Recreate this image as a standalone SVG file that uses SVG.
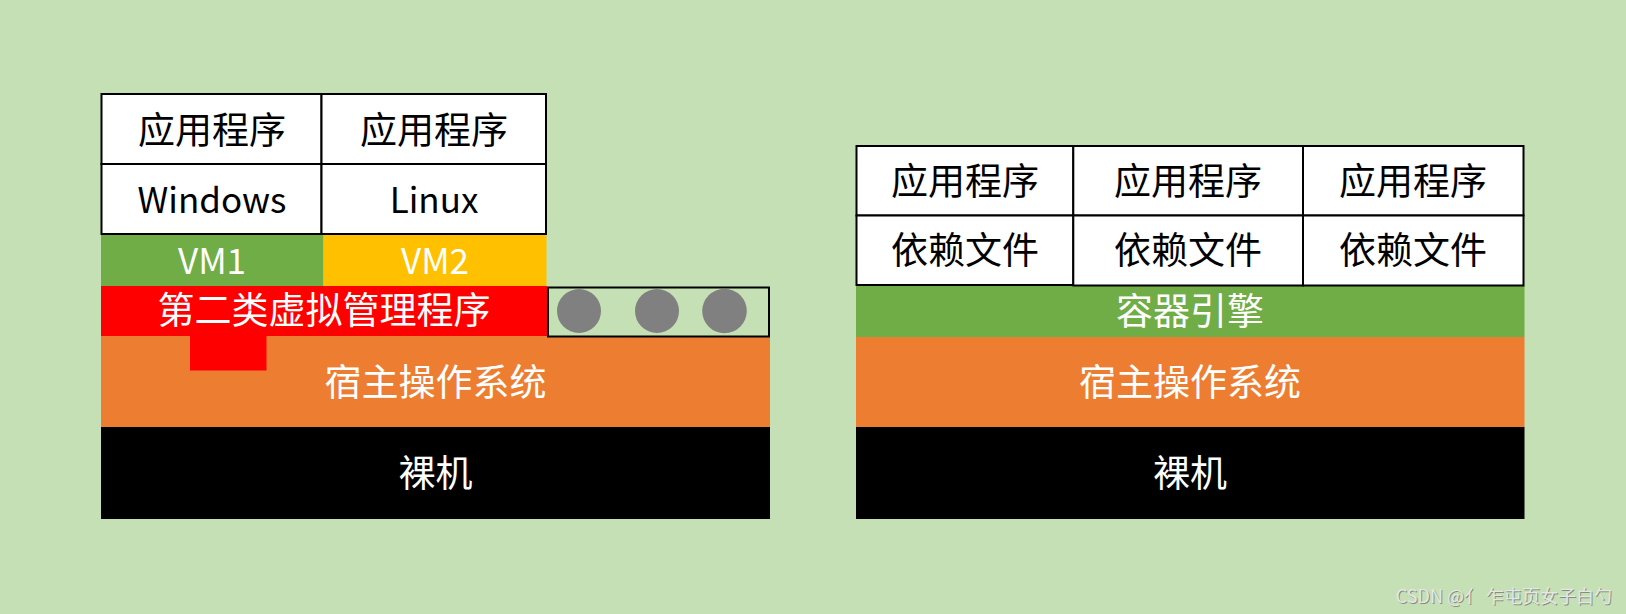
<svg xmlns="http://www.w3.org/2000/svg" width="1626" height="614" viewBox="0 0 1626 614">
<style>
.cell{fill:#ffffff;stroke:#000000;stroke-width:2}
.t{font-family:"Noto Sans CJK SC","Noto Sans",sans-serif;font-size:37px;text-anchor:middle;dominant-baseline:central}
.l{font-size:35px}
.dk{fill:#000000}
.wt{fill:#ffffff}
.dot{fill:#808080}
</style>
<rect x="0" y="0" width="1626" height="614" fill="#C5E0B4"/>

<!-- Left stack: Type 2 hypervisor -->
<g id="left-baremetal">
<rect x="101" y="427" width="669" height="92" fill="#000000"/>
<text class="t wt" x="435.5" y="471">裸机</text>
</g>
<g id="left-hostos">
<rect x="101" y="336" width="669" height="91" fill="#ED7D31"/>
<text class="t wt" x="435.5" y="380">宿主操作系统</text>
</g>
<g id="hypervisor">
<rect x="101" y="286" width="446" height="50" fill="#FF0000"/>
<rect x="190" y="335" width="76.5" height="35.5" fill="#FF0000"/>
<text class="t wt" x="324" y="308">第二类虚拟管理程序</text>
</g>
<g id="hypervisor-slots">
<rect x="548" y="287.5" width="221" height="49" fill="none" stroke="#000000" stroke-width="2"/>
<circle class="dot" cx="579" cy="311" r="22"/>
<circle class="dot" cx="657" cy="311" r="22"/>
<circle class="dot" cx="724.5" cy="311" r="22.3"/>
</g>
<g id="vm1">
<rect x="101" y="234" width="222.5" height="52" fill="#70AD47"/>
<text class="t l wt" x="212" y="258">VM1</text>
</g>
<g id="vm2">
<rect x="323.5" y="234" width="223" height="52" fill="#FFC000"/>
<text class="t l wt" x="435" y="258">VM2</text>
</g>
<g id="vm1-app">
<rect class="cell" x="101.5" y="94" width="220" height="70"/>
<text class="t dk" x="212" y="128">应用程序</text>
</g>
<g id="vm2-app">
<rect class="cell" x="321.5" y="94" width="224.5" height="70"/>
<text class="t dk" x="434" y="128">应用程序</text>
</g>
<g id="vm1-os">
<rect class="cell" x="101.5" y="164" width="220" height="70"/>
<text class="t l dk" x="212" y="197">Windows</text>
</g>
<g id="vm2-os">
<rect class="cell" x="321.5" y="164" width="224.5" height="70"/>
<text class="t l dk" x="434" y="197">Linux</text>
</g>

<!-- Right stack: containers -->
<g id="right-baremetal">
<rect x="856" y="427" width="668.5" height="92" fill="#000000"/>
<text class="t wt" x="1190" y="471">裸机</text>
</g>
<g id="right-hostos">
<rect x="856" y="337" width="668.5" height="90" fill="#ED7D31"/>
<text class="t wt" x="1190" y="380">宿主操作系统</text>
</g>
<g id="engine">
<rect x="856" y="285" width="668.5" height="52" fill="#70AD47"/>
<text class="t wt" x="1190" y="309">容器引擎</text>
</g>
<g id="c1-app">
<rect class="cell" x="856.5" y="146" width="216.8" height="69.5"/>
<text class="t dk" x="965" y="179">应用程序</text>
</g>
<g id="c2-app">
<rect class="cell" x="1073.3" y="146" width="229.7" height="69.5"/>
<text class="t dk" x="1188" y="179">应用程序</text>
</g>
<g id="c3-app">
<rect class="cell" x="1303" y="146" width="220.5" height="69.5"/>
<text class="t dk" x="1413" y="179">应用程序</text>
</g>
<g id="c1-deps">
<rect class="cell" x="856.5" y="215.5" width="216.8" height="69.5"/>
<text class="t dk" x="965" y="248">依赖文件</text>
</g>
<g id="c2-deps">
<rect class="cell" x="1073.3" y="215.5" width="229.7" height="70"/>
<text class="t dk" x="1188" y="248">依赖文件</text>
</g>
<g id="c3-deps">
<rect class="cell" x="1303" y="215.5" width="220.5" height="70"/>
<text class="t dk" x="1413" y="248">依赖文件</text>
</g>

<g id="connectors"/>

<g id="watermark">
<text x="1612" y="603" font-family="'Noto Sans CJK SC','Noto Sans',sans-serif" font-size="18" text-anchor="end" fill="#5a5a5a" opacity="0.6" transform="translate(1,1)">CSDN @亻 乍屯页女子白勺</text>
<text x="1612" y="603" font-family="'Noto Sans CJK SC','Noto Sans',sans-serif" font-size="18" text-anchor="end" fill="#e6e6e6">CSDN @亻 乍屯页女子白勺</text>
</g>
</svg>
